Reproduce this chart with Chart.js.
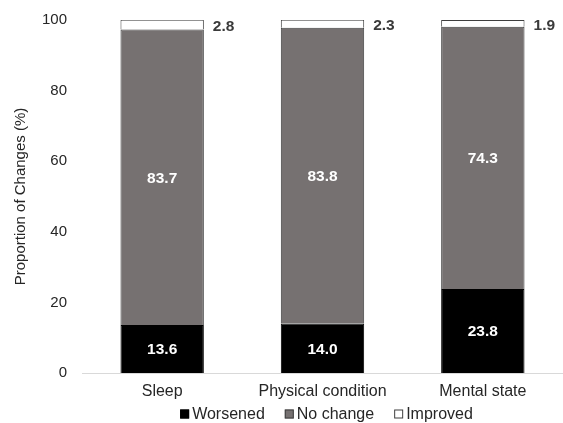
<!DOCTYPE html>
<html>
<head>
<meta charset="utf-8">
<script src="https://cdn.jsdelivr.net/npm/chart.js@4/dist/chart.umd.min.js"></script>
<style>
  html, body { margin: 0; padding: 0; background: #ffffff; }
  #wrap { width: 563px; height: 423px; }
</style>
</head>
<body>
<div id="wrap"><canvas id="c" width="563" height="423"></canvas></div>
<script>
// Categories and stacked shares (%) of each response
const categories = ['Sleep', 'Physical condition', 'Mental state'];
const worsened = [13.6, 14.0, 23.8];
const noChange = [83.7, 83.8, 74.3];
const improved = [2.8, 2.3, 1.9];
const yTicks = [0, 20, 40, 60, 80, 100];

const FONT = '"Liberation Sans", Arial, sans-serif';
const TEXT = '#262626';

// Value labels: inside the bar for the two lower segments, beside the bar for the top one
const valueLabels = {
  id: 'valueLabels',
  afterDatasetsDraw(chart) {
    const ctx = chart.ctx;
    ctx.save();
    ctx.font = 'bold 15.5px ' + FONT;
    ctx.textBaseline = 'middle';
    chart.data.datasets.forEach((ds, di) => {
      const meta = chart.getDatasetMeta(di);
      meta.data.forEach((bar, i) => {
        const txt = ds.data[i].toFixed(1);
        const midY = (bar.y + bar.base) / 2;
        if (di < 2) {
          ctx.fillStyle = '#ffffff';
          ctx.textAlign = 'center';
          ctx.fillText(txt, bar.x, midY + 1);
        } else {
          ctx.fillStyle = '#3a3a3a';
          ctx.textAlign = 'left';
          ctx.fillText(txt, bar.x + bar.width / 2 + 9, midY + 2);
        }
      });
    });
    ctx.restore();
  }
};

// Compact legend row under the category labels, centred on the plot area
const bottomLegend = {
  id: 'bottomLegend',
  afterDraw(chart) {
    const ctx = chart.ctx;
    const area = chart.chartArea;
    const box = 9, boxGap = 3, itemGap = 20;
    const y = chart.height - 9;
    ctx.save();
    ctx.font = '16px ' + FONT;
    ctx.textBaseline = 'middle';
    const items = chart.data.datasets.map(ds => ({
      text: ds.label,
      fill: ds.backgroundColor,
      stroke: ds.borderColor,
      w: box + boxGap + ctx.measureText(ds.label).width
    }));
    const total = items.reduce((s, it) => s + it.w, 0) + itemGap * (items.length - 1);
    let x = (area.left + area.right) / 2 - total / 2 + 4;
    items.forEach(it => {
      ctx.fillStyle = it.fill;
      ctx.fillRect(x, y - box / 2, box, box);
      ctx.strokeStyle = it.stroke;
      ctx.lineWidth = 1;
      ctx.strokeRect(x + 0.5, y - box / 2 + 0.5, box - 1, box - 1);
      ctx.fillStyle = TEXT;
      ctx.textAlign = 'left';
      ctx.fillText(it.text, x + box + boxGap, y + 1);
      x += it.w + itemGap;
    });
    ctx.restore();
  }
};

new Chart(document.getElementById('c'), {
  type: 'bar',
  data: {
    labels: categories,
    datasets: [
      { label: 'Worsened', data: worsened, backgroundColor: '#000000', borderColor: '#000000', borderWidth: 1 },
      { label: 'No change', data: noChange, backgroundColor: '#767171', borderColor: '#3f3f3f', borderWidth: 1 },
      { label: 'Improved', data: improved, backgroundColor: '#ffffff', borderColor: '#3f3f3f', borderWidth: 1 }
    ]
  },
  options: {
    responsive: false,
    animation: false,
    devicePixelRatio: 1,
    layout: { padding: { top: 20, right: 0, bottom: 20, left: 12 } },
    datasets: { bar: { barPercentage: 0.52, categoryPercentage: 1.0 } },
    scales: {
      x: {
        stacked: true,
        grid: { display: false },
        border: { display: true, color: '#d9d9d9', width: 1 },
        ticks: { color: TEXT, font: { family: FONT, size: 16 }, padding: 1, maxRotation: 0 },
        afterFit(s) { s.height = 30; }
      },
      y: {
        stacked: true,
        min: 0,
        max: 100,
        afterBuildTicks(s) { s.ticks = yTicks.map(v => ({ value: v })); },
        grid: { display: false },
        border: { display: false },
        ticks: { color: TEXT, font: { family: FONT, size: 15 }, padding: 7 },
        title: {
          display: true,
          text: 'Proportion of Changes (%)',
          color: TEXT,
          font: { family: FONT, size: 15 },
          padding: { top: 0, bottom: 0 }
        },
        afterFit(s) { s.width = 70; }
      }
    },
    plugins: {
      legend: { display: false },
      tooltip: { enabled: false }
    }
  },
  plugins: [valueLabels, bottomLegend]
});
</script>
</body>
</html>
